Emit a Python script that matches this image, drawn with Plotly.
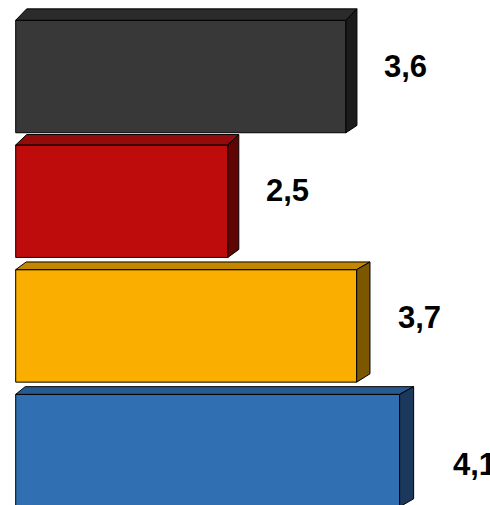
import plotly.graph_objects as go

# ---- data ----
categories = ["Serie 1", "Serie 2", "Serie 3", "Serie 4"]
values = [3.6, 2.5, 3.7, 4.1]
labels = ["3,6", "2,5", "3,7", "4,1"]

# ---- style ----
front_colors = ["#383838", "#BE0C0C", "#F9AE00", "#306FB2"]
top_colors = ["#2B2B2B", "#930B0B", "#C28900", "#285A8F"]
side_colors = ["#1B1B1B", "#610404", "#7B5700", "#1C395D"]

W, H = 490, 505
PX_PER_X = 107.4          # pixels per value unit
X_MIN = 0.379             # value at left paper edge
X_MAX = X_MIN + W / PX_PER_X
BASE = X_MIN + 15.7 / PX_PER_X
PX_PER_Y = 124.7          # pixels per category step
Y_TOP = -76.5 / PX_PER_Y
Y_BOT = Y_TOP + H / PX_PER_Y
BAR_W = 0.902

# 3D depth offsets in pixels (left dx, right dx, top dy, bottom dy)
dxL = [11, 11, 10.5, 9.5]
dxR = [11, 11, 13.3, 14]
dyT = [-11.4, -10.4, -7.7, -7.7]
dyB = [-7.3, -8, -8.3, -8]
label_xshift = [36, 36, 39, 51]
label_yshift = [10, 11, 8, -14]

pos = list(range(len(categories)))

fig = go.Figure()
fig.add_trace(go.Bar(
    orientation="h",
    y=pos,
    x=[v - BASE for v in values],
    base=BASE,
    width=BAR_W,
    marker=dict(color=front_colors, line=dict(color="#000000", width=1)),
    hoverinfo="skip",
))

shapes = []
annotations = []
for i, v in enumerate(values):
    L, R = BASE, v
    T, B = pos[i] - BAR_W / 2, pos[i] + BAR_W / 2
    ddxL = dxL[i] / PX_PER_X
    ddxR = dxR[i] / PX_PER_X
    ddyT = dyT[i] / PX_PER_Y
    ddyB = dyB[i] / PX_PER_Y
    top_path = (f"M {L},{T} L {L+ddxL},{T+ddyT} L {R+ddxR},{T+ddyT} "
                f"L {R},{T} Z")
    side_path = (f"M {R},{T} L {R+ddxR},{T+ddyT} L {R+ddxR},{B+ddyB} "
                 f"L {R},{B} Z")
    shapes.append(dict(type="path", xref="x", yref="y", path=top_path,
                       fillcolor=top_colors[i],
                       line=dict(color="#000000", width=1), layer="above"))
    shapes.append(dict(type="path", xref="x", yref="y", path=side_path,
                       fillcolor=side_colors[i],
                       line=dict(color="#000000", width=1), layer="above"))
    annotations.append(dict(
        x=v, y=pos[i], xref="x", yref="y", text=f"<b>{labels[i]}</b>",
        showarrow=False, xanchor="left", yanchor="middle",
        xshift=label_xshift[i], yshift=label_yshift[i],
        font=dict(family="Liberation Sans, Arial, sans-serif", size=31,
                  color="#000000"),
    ))

fig.update_layout(
    width=W, height=H,
    margin=dict(l=0, r=0, t=0, b=0),
    paper_bgcolor="white", plot_bgcolor="white",
    showlegend=False,
    shapes=shapes, annotations=annotations,
    xaxis=dict(range=[X_MIN, X_MAX], visible=False, fixedrange=True),
    yaxis=dict(range=[Y_BOT, Y_TOP], visible=False, fixedrange=True),
)

fig.write_html(
    "out.html",
    config={"displayModeBar": False},
    post_script="document.body.style.margin='0';document.body.style.overflow='hidden';",
)
